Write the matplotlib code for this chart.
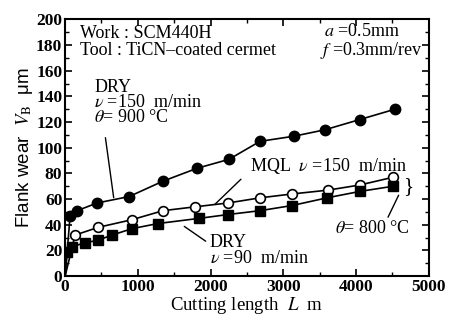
# Flank wear vs cutting length (DRY / MQL)

import matplotlib
matplotlib.use("Agg")
import matplotlib.pyplot as plt
from matplotlib.ticker import MultipleLocator

plt.rcParams['font.family'] = ['Liberation Serif', 'DejaVu Serif']
plt.rcParams['mathtext.fontset'] = 'stix'

# DRY, v=150 m/min (filled circles)
L_dry150 = [0, 69, 165, 440, 880, 1346, 1813, 2253, 2679, 3145, 3571, 4052, 4533]
vb_dry150 = [0, 47, 51, 57, 62, 74, 84, 91, 105, 109, 114, 122, 130]

# MQL, v=150 m/min (open circles)
L_mql = [0, 137, 453, 920, 1346, 1786, 2239, 2679, 3118, 3613, 4052, 4505]
vb_mql = [0, 32, 38, 44, 51, 54, 57, 61, 64, 67, 71, 77]

# DRY, v=90 m/min (filled squares)
L_dry90 = [0, 27, 96, 275, 453, 645, 920, 1277, 1840, 2239, 2679, 3118, 3600, 4052, 4505]
vb_dry90 = [0, 19, 23, 26, 28, 32, 37, 41, 45, 48, 51, 55, 61, 66, 70]

fig = plt.figure(figsize=(4.49, 3.23), dpi=100)
ax = fig.add_axes([0.145, 0.145, 0.81, 0.795])

ax.plot(L_dry150, vb_dry150, color='black', lw=1.2, marker='o', ms=7.5,
        mfc='black', mec='black', markevery=slice(1, None))
ax.plot(L_mql, vb_mql, color='black', lw=1.2, marker='o', ms=7,
        mfc='white', mec='black', mew=1.2, markevery=slice(1, None))
ax.plot(L_dry90, vb_dry90, color='black', lw=1.2, marker='s', ms=6.5,
        mfc='black', mec='black', markevery=slice(1, None))

ax.set_xlim(0, 5000)
ax.set_ylim(0, 200)
ax.xaxis.set_major_locator(MultipleLocator(1000))
ax.xaxis.set_minor_locator(MultipleLocator(500))
ax.yaxis.set_major_locator(MultipleLocator(20))
ax.yaxis.set_minor_locator(MultipleLocator(10))
ax.tick_params(which='both', direction='in', top=True, right=True, labelsize=12.5, pad=2)
ax.tick_params(which='major', length=5, width=1.2)
ax.tick_params(which='minor', length=3, width=1)
for lab in ax.get_xticklabels() + ax.get_yticklabels():
    lab.set_fontweight('bold')
for s in ax.spines.values():
    s.set_linewidth(1.5)

ax.set_xlabel("Cutting length  $L$  m", fontsize=13.5, labelpad=0)
ax.set_ylabel("Flank wear  $V_{\\mathrm{B}}$  \u03bcm", fontsize=13.5, labelpad=1,
              family=['Liberation Sans', 'DejaVu Sans'])

fs = 13
ax.text(200, 182, "Work : SCM440H\nTool : TiCN\u2013coated cermet", fontsize=fs,
        va='center', linespacing=1.0)
ax.text(4920, 182, "$a$ =0.5mm      \n$f$ =0.3mm/rev", fontsize=fs,
        va='center', ha='right', linespacing=1.0)

ax.text(400, 135.5, "DRY\n$\\nu$ =150  m/min\n$\\theta$= 900 \u00b0C", fontsize=fs,
        va='center', linespacing=0.85)
ax.annotate("", xy=(673, 59), xytext=(549, 110),
            arrowprops=dict(arrowstyle='-', color='black', lw=1))

ax.text(2540, 86, "MQL  $\\nu$ =150  m/min", fontsize=fs, va='center')
ax.annotate("", xy=(2033, 54.5), xytext=(2445, 77),
            arrowprops=dict(arrowstyle='-', color='black', lw=1))

ax.text(1990, 20, "DRY\n$\\nu$ =90  m/min", fontsize=fs, va='center', linespacing=0.85)
ax.annotate("", xy=(1607, 40), xytext=(1964, 26),
            arrowprops=dict(arrowstyle='-', color='black', lw=1))

ax.text(4650, 70, "}", fontsize=15, va='center')
ax.text(4231, 37, "$\\theta$= 800 \u00b0C", fontsize=fs, va='center', ha='center')
ax.annotate("", xy=(4602, 65), xytext=(4423, 44),
            arrowprops=dict(arrowstyle='-', color='black', lw=1))

fig.savefig("out.png", dpi=100)
